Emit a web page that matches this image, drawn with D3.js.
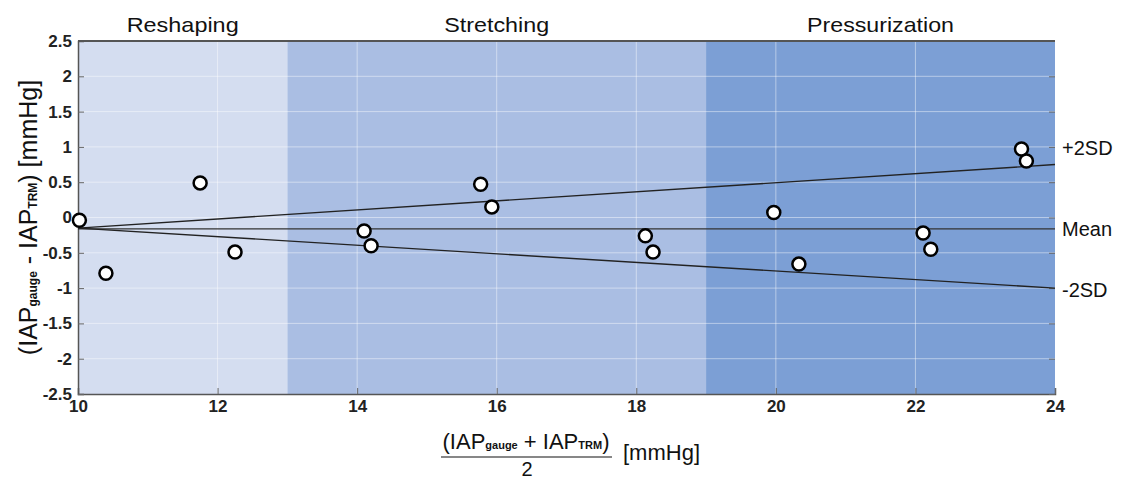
<!DOCTYPE html>
<html><head><meta charset="utf-8">
<script src="https://cdn.jsdelivr.net/npm/d3@7"></script>
<style>body{margin:0;background:#fff;}svg{display:block;font-family:"Liberation Sans",Arial,sans-serif;}</style>
</head><body><svg id="c" width="1124" height="480"></svg>
<script>
const phases = ["Reshaping","Stretching","Pressurization"];
const phaseStart = [10,13,19];
const phaseEnd = [13,19,24];
const phaseColors = ["#d4ddf0","#aabee3","#7c9fd5"];
const meanX = [10.02,10.40,11.75,12.25,14.10,14.20,15.77,15.93,18.13,18.24,19.97,20.33,22.11,22.22,23.52,23.59];
const diffY = [-0.04,-0.79,0.49,-0.49,-0.19,-0.40,0.47,0.15,-0.26,-0.49,0.07,-0.66,-0.22,-0.45,0.97,0.80];
const meanBias = -0.16;
const upperLine = [[10,-0.15],[24,0.75]];
const lowerLine = [[10,-0.15],[24,-1.0]];
const xTicks = [10,12,14,16,18,20,22,24];
const yTicks = [2.5,2,1.5,1,0.5,0,-0.5,-1,-1.5,-2,-2.5];
const rightLabels = [["+2SD",0.98],["Mean",-0.16],["-2SD",-1.02]];

const FF = "Liberation Sans, Arial, sans-serif";
const svg = d3.select("#c");
const L=78,R=1055,T=41,B=394;
const x = d3.scaleLinear().domain([10,24]).range([L,R]);
const y = d3.scaleLinear().domain([-2.5,2.5]).range([B,T]);

svg.selectAll("rect.ph").data(phases).enter().append("rect")
 .attr("x",(d,i)=>x(phaseStart[i])).attr("width",(d,i)=>x(phaseEnd[i])-x(phaseStart[i]))
 .attr("y",T).attr("height",B-T).attr("fill",(d,i)=>phaseColors[i]);

// grid
svg.selectAll("line.gx").data(xTicks.slice(1,-1)).enter().append("line")
 .attr("x1",d=>x(d)).attr("x2",d=>x(d)).attr("y1",T).attr("y2",B)
 .attr("stroke","#ffffff").attr("stroke-opacity",0.45).attr("stroke-width",1);
svg.selectAll("line.gy").data(yTicks.slice(1,-1)).enter().append("line")
 .attr("x1",L).attr("x2",R).attr("y1",d=>y(d)).attr("y2",d=>y(d))
 .attr("stroke","#ffffff").attr("stroke-opacity",0.45).attr("stroke-width",1);

// axes
const ax = svg.append("g").attr("transform",`translate(0,${B})`)
 .call(d3.axisBottom(x).tickValues(xTicks).tickSize(-6).tickPadding(6));
const ay = svg.append("g").attr("transform",`translate(${L},0)`)
 .call(d3.axisLeft(y).tickValues(yTicks).tickSize(-6).tickPadding(6).tickFormat(d=>d));
const ayr = svg.append("g").attr("transform",`translate(${R},0)`)
 .call(d3.axisRight(y).tickValues(yTicks).tickSize(-6).tickFormat(""));
ayr.select(".domain").remove();
[ax,ay].forEach(g=>{g.select(".domain").attr("stroke","#555").attr("stroke-width",1.5);
 g.selectAll(".tick line").attr("stroke","#666");
 g.selectAll(".tick text").attr("font-size",17).attr("font-weight","bold").attr("fill","#222")
 .attr("font-family",FF);});
ayr.selectAll(".tick line").attr("stroke","#666");
svg.append("line").attr("x1",L).attr("x2",R).attr("y1",T).attr("y2",T).attr("stroke","#555").attr("stroke-width",2);

// lines
const line = d3.line().x(d=>x(d[0])).y(d=>y(d[1]));
svg.append("path").attr("d",line([[10,meanBias],[24,meanBias]])).attr("stroke","#333").attr("stroke-width",1.2).attr("fill","none");
svg.append("path").attr("d",line(upperLine)).attr("stroke","#222").attr("stroke-width",1.4).attr("fill","none");
svg.append("path").attr("d",line(lowerLine)).attr("stroke","#222").attr("stroke-width",1.4).attr("fill","none");

// points
svg.selectAll("circle.p").data(meanX).enter().append("circle")
 .attr("cx",d=>x(d)).attr("cy",(d,i)=>y(diffY[i])).attr("r",6.5)
 .attr("fill","#fff").attr("stroke","#000").attr("stroke-width",2.5);

// phase labels
svg.selectAll("text.ph").data(phases).enter().append("text")
 .attr("x",(d,i)=>(x(phaseStart[i])+x(phaseEnd[i]))/2).attr("y",32)
 .attr("text-anchor","middle").attr("font-size",21).attr("fill","#111")
 .attr("textLength",(d,i)=>[112,105,147][i]).attr("lengthAdjust","spacingAndGlyphs").text(d=>d);

// right labels
svg.selectAll("text.rl").data(rightLabels).enter().append("text")
 .attr("x",R+7).attr("y",d=>y(d[1])).attr("dy","0.35em").attr("font-size",20).attr("fill","#111")
 .text(d=>d[0]);

// y label
const yl = svg.append("text").attr("transform",`translate(37,${(T+B)/2}) rotate(-90)`)
 .attr("text-anchor","middle").attr("font-size",25).attr("fill","#111");
yl.append("tspan").text("(IAP");
yl.append("tspan").attr("font-size",12).attr("font-weight","bold").text("gauge");
yl.append("tspan").text(" - IAP");
yl.append("tspan").attr("font-size",12).attr("font-weight","bold").text("TRM");
yl.append("tspan").text(") [mmHg]");

// x label (fraction)
const num = svg.append("text").attr("x",526).attr("y",449).attr("text-anchor","middle").attr("font-size",22).attr("fill","#111");
num.append("tspan").text("(IAP");
num.append("tspan").attr("font-size",11).attr("font-weight","bold").text("gauge");
num.append("tspan").text(" + IAP");
num.append("tspan").attr("font-size",11).attr("font-weight","bold").text("TRM");
num.append("tspan").text(")");
svg.append("line").attr("x1",441).attr("x2",612).attr("y1",457).attr("y2",457).attr("stroke","#111").attr("stroke-width",1.2);
svg.append("text").attr("x",527).attr("y",476).attr("text-anchor","middle").attr("font-size",20).attr("fill","#111").text("2");
svg.append("text").attr("x",623).attr("y",460).attr("font-size",22).attr("fill","#111").text("[mmHg]");
</script></body></html>
